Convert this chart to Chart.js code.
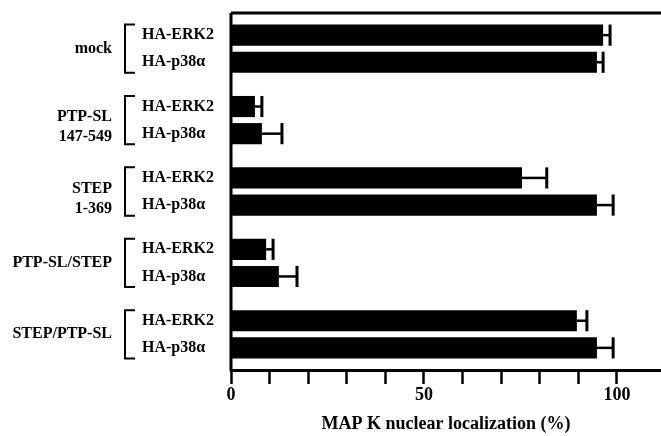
<!DOCTYPE html>
<html><head><meta charset="utf-8">
<script src="https://cdn.jsdelivr.net/npm/chart.js@4"></script>
<style>html,body{margin:0;padding:0;background:#fff}#wrap{width:661px;height:436px}</style>
</head><body><div id="wrap"><canvas id="c" width="661" height="436"></canvas></div>
<script>
const groups = [["mock"], ["PTP-SL", "147-549"], ["STEP", "1-369"], ["PTP-SL/STEP"], ["STEP/PTP-SL"]];
const seriesNames = ["HA-ERK2", "HA-p38\u03b1"];
const erk2 = [96.4, 6.2, 75.4, 9.1, 89.6];
const erk2Err = [1.8, 1.8, 6.4, 1.8, 2.6];
const p38 = [94.8, 8.0, 94.8, 12.4, 94.8];
const p38Err = [1.6, 5.2, 4.2, 4.7, 4.2];
const xTicks = [0, 50, 100];
const xTitle = "MAP K nuclear localization (%)";

const FONT = "'Liberation Serif', 'DejaVu Serif', serif";
const errors = [erk2Err, p38Err];

const errorBars = {
  id: 'errorBars',
  afterDatasetsDraw(chart) {
    const ctx = chart.ctx, xs = chart.scales.x;
    ctx.save();
    ctx.strokeStyle = '#000';
    chart.data.datasets.forEach((ds, di) => {
      const meta = chart.getDatasetMeta(di);
      meta.data.forEach((bar, j) => {
        const end = xs.getPixelForValue(ds.data[j] + errors[di][j]);
        const h = bar.height;
        ctx.lineWidth = 2.5;
        ctx.beginPath();
        ctx.moveTo(bar.x, bar.y);
        ctx.lineTo(end, bar.y);
        ctx.stroke();
        ctx.lineWidth = 3;
        ctx.beginPath();
        ctx.moveTo(end, bar.y - h / 2);
        ctx.lineTo(end, bar.y + h / 2);
        ctx.stroke();
      });
    });
    ctx.restore();
  }
};

const frameAndLabels = {
  id: 'frameAndLabels',
  afterDraw(chart) {
    const ctx = chart.ctx, a = chart.chartArea;
    ctx.save();
    ctx.strokeStyle = '#000';
    ctx.lineWidth = 3;
    ctx.beginPath();
    ctx.moveTo(a.left, a.top);
    ctx.lineTo(a.left, a.bottom + 1);
    ctx.stroke();
    ctx.beginPath();
    ctx.moveTo(a.left, a.top);
    ctx.lineTo(a.right, a.top);
    ctx.stroke();
    ctx.fillStyle = '#000';
    ctx.font = "bold 16px " + FONT;
    ctx.textBaseline = 'middle';
    const m0 = chart.getDatasetMeta(0), m1 = chart.getDatasetMeta(1);
    groups.forEach((g, i) => {
      const b0 = m0.data[i], b1 = m1.data[i];
      const c = (b0.y + b1.y) / 2;
      ctx.textAlign = 'right';
      if (g.length === 1) {
        ctx.fillText(g[0], 112, c);
      } else {
        ctx.fillText(g[0], 112, c - 3);
        ctx.fillText(g[1], 112, c + 17);
      }
      const top = b0.y - b0.height / 2, bot = b1.y + b1.height / 2;
      ctx.lineWidth = 2;
      ctx.beginPath();
      ctx.moveTo(135, top);
      ctx.lineTo(125, top);
      ctx.lineTo(125, bot);
      ctx.lineTo(135, bot);
      ctx.stroke();
      ctx.textAlign = 'left';
      ctx.fillText(seriesNames[0], 142, b0.y);
      ctx.fillText(seriesNames[1], 142, b1.y);
    });
    ctx.restore();
  }
};

new Chart(document.getElementById('c'), {
  type: 'bar',
  data: {
    labels: groups.map(g => g.join(' ')),
    datasets: [
      { label: seriesNames[0], data: erk2, backgroundColor: '#000', borderWidth: 0, categoryPercentage: 0.76, barPercentage: 0.78 },
      { label: seriesNames[1], data: p38, backgroundColor: '#000', borderWidth: 0, categoryPercentage: 0.76, barPercentage: 0.78 }
    ]
  },
  options: {
    indexAxis: 'y',
    responsive: false,
    devicePixelRatio: 1,
    animation: false,
    layout: { padding: { left: 231, top: 13, right: 0, bottom: 0 } },
    plugins: { legend: { display: false }, tooltip: { enabled: false } },
    scales: {
      y: { display: false },
      x: {
        position: 'bottom',
        min: 0, max: 111.4,
        afterBuildTicks(s) { s.ticks = s.ticks.filter(t => t.value <= 100); },
        afterFit(s) { s.height = 66; },
        ticks: {
          stepSize: 10,
          autoSkip: false,
          maxRotation: 0,
          padding: 1,
          color: '#000',
          font: { family: FONT, size: 18, weight: 'bold' },
          callback: v => xTicks.includes(v) ? String(v) : ''
        },
        grid: { display: true, drawOnChartArea: false, drawTicks: true, tickLength: 14, tickWidth: 2.5, tickColor: '#000' },
        border: { display: true, color: '#000', width: 3 },
        title: {
          display: true, text: xTitle, color: '#000',
          font: { family: FONT, size: 18, weight: 'bold' },
          padding: { top: 0, bottom: 1 }
        }
      }
    }
  },
  plugins: [errorBars, frameAndLabels]
});
</script>
</body></html>
